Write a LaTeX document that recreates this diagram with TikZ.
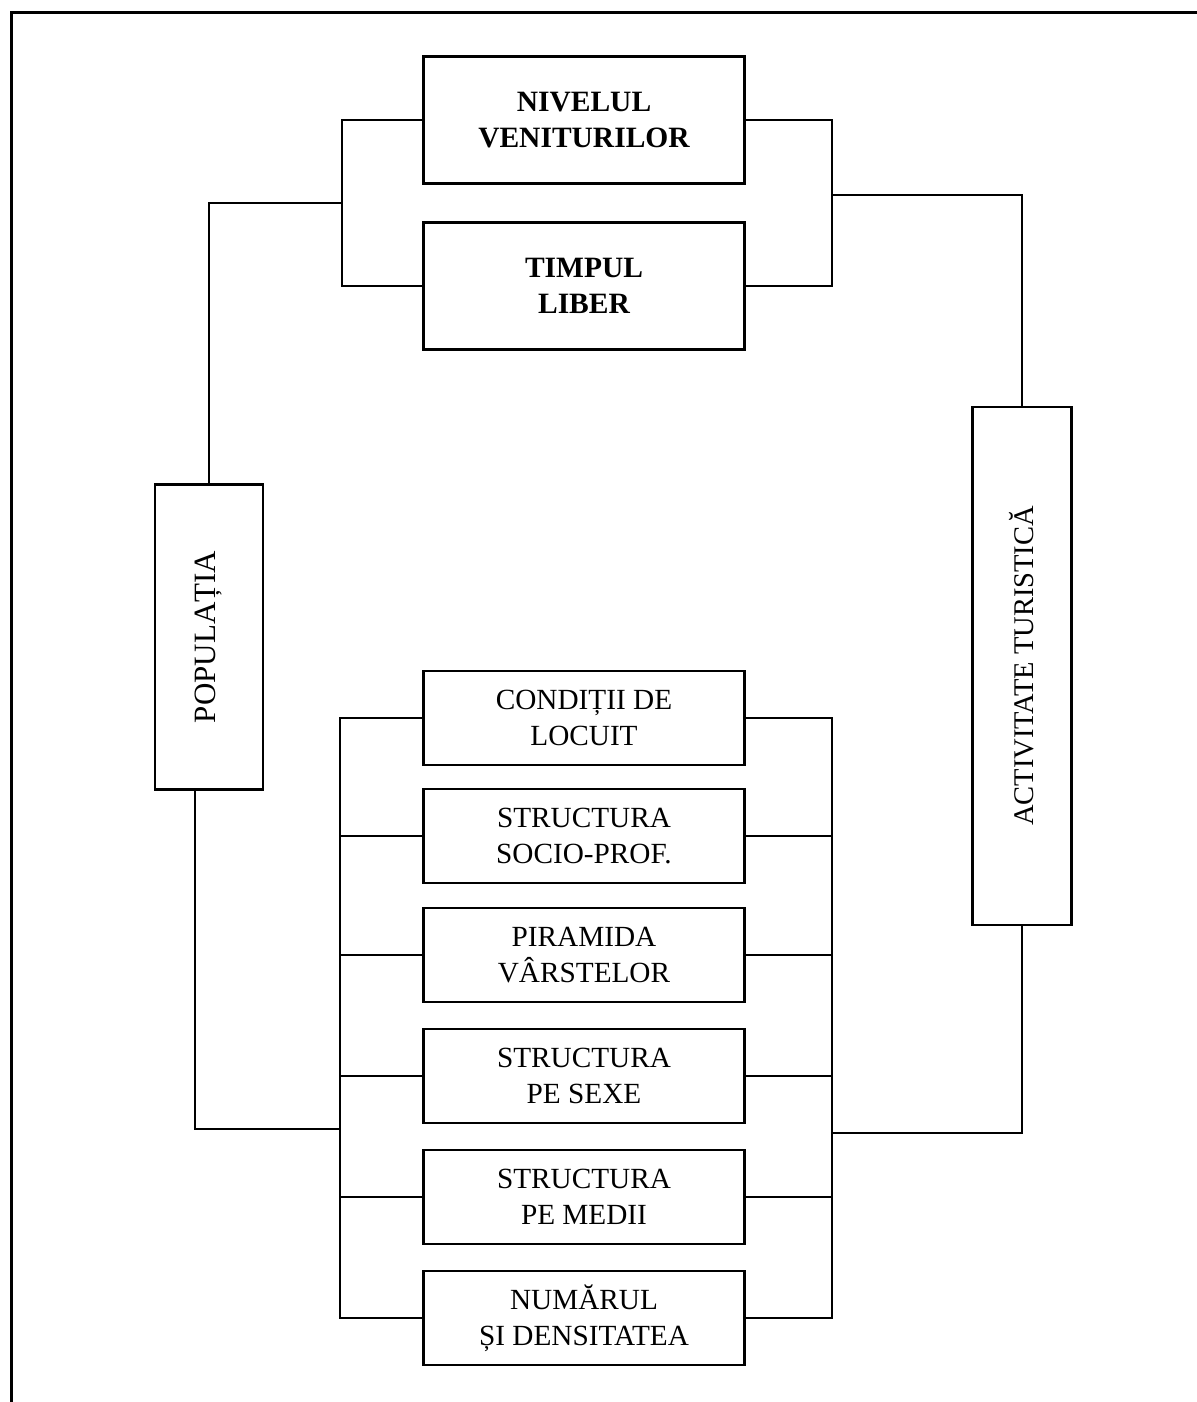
\documentclass[tikz,border=0pt]{standalone}
\usepackage{fontspec}
\setmainfont{Liberation Serif}
\usepackage{graphicx}

\begin{document}
\begin{tikzpicture}[x=0.4pt, y=-0.4pt,
   box_style/.style={rectangle,draw=black,line width=1.1pt,align=center,inner sep=2pt,
     minimum width=128.4pt,font=\fontsize{11.7}{14.5}\selectfont},
   top_style/.style={box_style,minimum height=50.8pt,font=\fontsize{11.8}{14.5}\selectfont\bfseries},
   low_style/.style={box_style,minimum height=37.6pt},
   side_style/.style={box_style},
   edge_style/.style={draw=black, line width=0.6pt}]

    \useasboundingbox (0,0) rectangle (1197,1402);
    % frame (only top and left edge visible)
    \draw[line width=1.2pt] (11,1402) -- (11,12) -- (1197,12);

    \node[top_style] (niv) at (584,120) {NIVELUL\\VENITURILOR};
    \node[top_style] (timp) at (584,286) {TIMPUL\\LIBER};

    \node[side_style, minimum width=43.2pt, minimum height=122pt, font=\fontsize{12.4}{14}\selectfont] (pop) at (209,637)
       {\rotatebox{90}{POPULAȚIA}};
    \node[side_style, minimum width=39.6pt, minimum height=207.2pt, font=\fontsize{11.4}{14}\selectfont] (act) at (1022,666)
       {\rotatebox{90}{ACTIVITATE TURISTICĂ}};

    \node[low_style] (cond) at (584,718) {CONDIȚII DE\\LOCUIT};
    \node[low_style] (soc) at (584,836) {STRUCTURA\\SOCIO-PROF.};
    \node[low_style] (pir) at (584,955) {PIRAMIDA\\VÂRSTELOR};
    \node[low_style] (sex) at (584,1076) {STRUCTURA\\PE SEXE};
    \node[low_style] (med) at (584,1197) {STRUCTURA\\PE MEDII};
    \node[low_style] (num) at (584,1318) {NUMĂRUL\\ȘI DENSITATEA};

    \coordinate (ltop) at (342,203);
    \coordinate (rtop) at (832,195);
    \coordinate (lbot) at (340,1129);
    \coordinate (rbot) at (832,1133);

    % upper brackets
    \draw[edge_style] (niv.west) -| (ltop) |- (timp.west);
    \draw[edge_style] (niv.east) -| (rtop) |- (timp.east);
    \draw[edge_style] (pop.north) |- (ltop);
    \draw[edge_style] (act.north) |- (rtop);

    % lower brackets
    \draw[edge_style] (cond.west) -| (lbot) |- (num.west);
    \draw[edge_style] (cond.east) -| (rbot) |- (num.east);
    \foreach \b in {soc,pir,sex,med} {
      \draw[edge_style] (\b.west) -- (\b.west -| lbot);
      \draw[edge_style] (\b.east) -- (\b.east -| rbot);
    }
    \draw[edge_style] ([xshift=-5.6pt]pop.south) |- (lbot);
    \draw[edge_style] (act.south) |- (rbot);
\end{tikzpicture}
\end{document}
